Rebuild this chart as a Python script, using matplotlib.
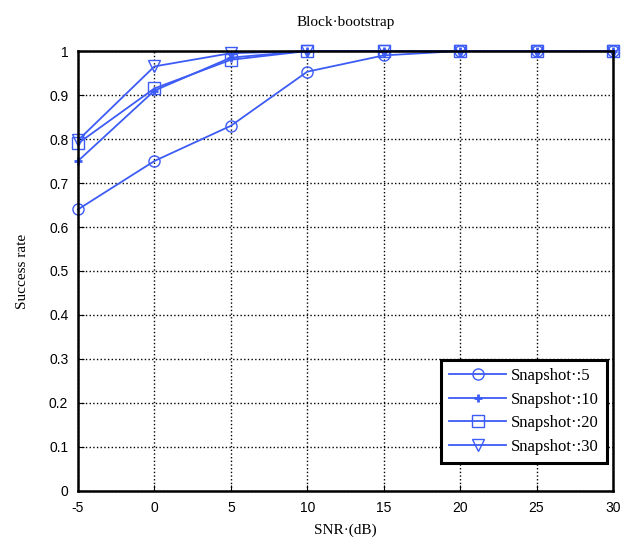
import matplotlib
matplotlib.use('Agg')
import matplotlib.pyplot as plt

plt.rcParams['axes.unicode_minus'] = False

snr = [-5, 0, 5, 10, 15, 20, 25, 30]
snap5 = [0.64, 0.75, 0.83, 0.953, 0.99, 1.0, 1.0, 1.0]
snap10 = [0.75, 0.91, 0.985, 1.0, 1.0, 1.0, 1.0, 1.0]
snap20 = [0.79, 0.915, 0.98, 1.0, 1.0, 1.0, 1.0, 1.0]
snap30 = [0.797, 0.965, 0.995, 1.0, 1.0, 1.0, 1.0, 1.0]
labels = ['Snapshot\u00b7:5', 'Snapshot\u00b7:10', 'Snapshot\u00b7:20', 'Snapshot\u00b7:30']

blue = '#3d5cf5'
serif = 'Liberation Serif'
sans = 'Liberation Sans'

fig = plt.figure(figsize=(6.22, 5.42), dpi=100)
ax = fig.add_axes([0.1254, 0.0941, 0.8601, 0.8118])

ax.plot(snr, snap5, color=blue, marker='o', markersize=8, mfc='none', lw=1.3, label=labels[0], clip_on=False)
ax.plot(snr, snap10, color=blue, marker='+', markersize=6, mew=2, lw=1.3, label=labels[1], clip_on=False)
ax.plot(snr, snap20, color=blue, marker='s', markersize=8, mfc='none', lw=1.3, label=labels[2], clip_on=False)
ax.plot(snr, snap30, color=blue, marker='v', markersize=9, mfc='none', lw=1.3, label=labels[3], clip_on=False)

ax.set_xlim(-5, 30)
ax.set_ylim(0, 1)
ax.set_xticks(snr)
ax.set_yticks([i / 10 for i in range(11)])
ax.set_yticklabels(['0', '0.1', '0.2', '0.3', '0.4', '0.5', '0.6', '0.7', '0.8', '0.9', '1'])
ax.grid(True, color='black', linestyle=':', linewidth=1)
ax.tick_params(direction='in', length=4, labelsize=10, pad=7)
for lab in ax.get_xticklabels() + ax.get_yticklabels():
    lab.set_fontfamily(sans)
for sp in ax.spines.values():
    sp.set_linewidth(1.8)

ax.set_title('Block\u00b7bootstrap', fontfamily=serif, fontsize=11, pad=18)
ax.set_xlabel('SNR\u00b7(dB)', fontfamily=serif, fontsize=11, labelpad=6)
ax.set_ylabel('Success rate', fontfamily=serif, fontsize=11, labelpad=14)

leg = ax.legend(loc='lower right', bbox_to_anchor=(0.989, 0.064), borderaxespad=0,
                prop={'family': serif, 'size': 12},
                fancybox=False, framealpha=1, edgecolor='black', borderpad=0.5,
                labelspacing=0.45, handlelength=3.4, handletextpad=0.3)
leg.get_frame().set_linewidth(2.2)

fig.savefig('out.png', dpi=100)
